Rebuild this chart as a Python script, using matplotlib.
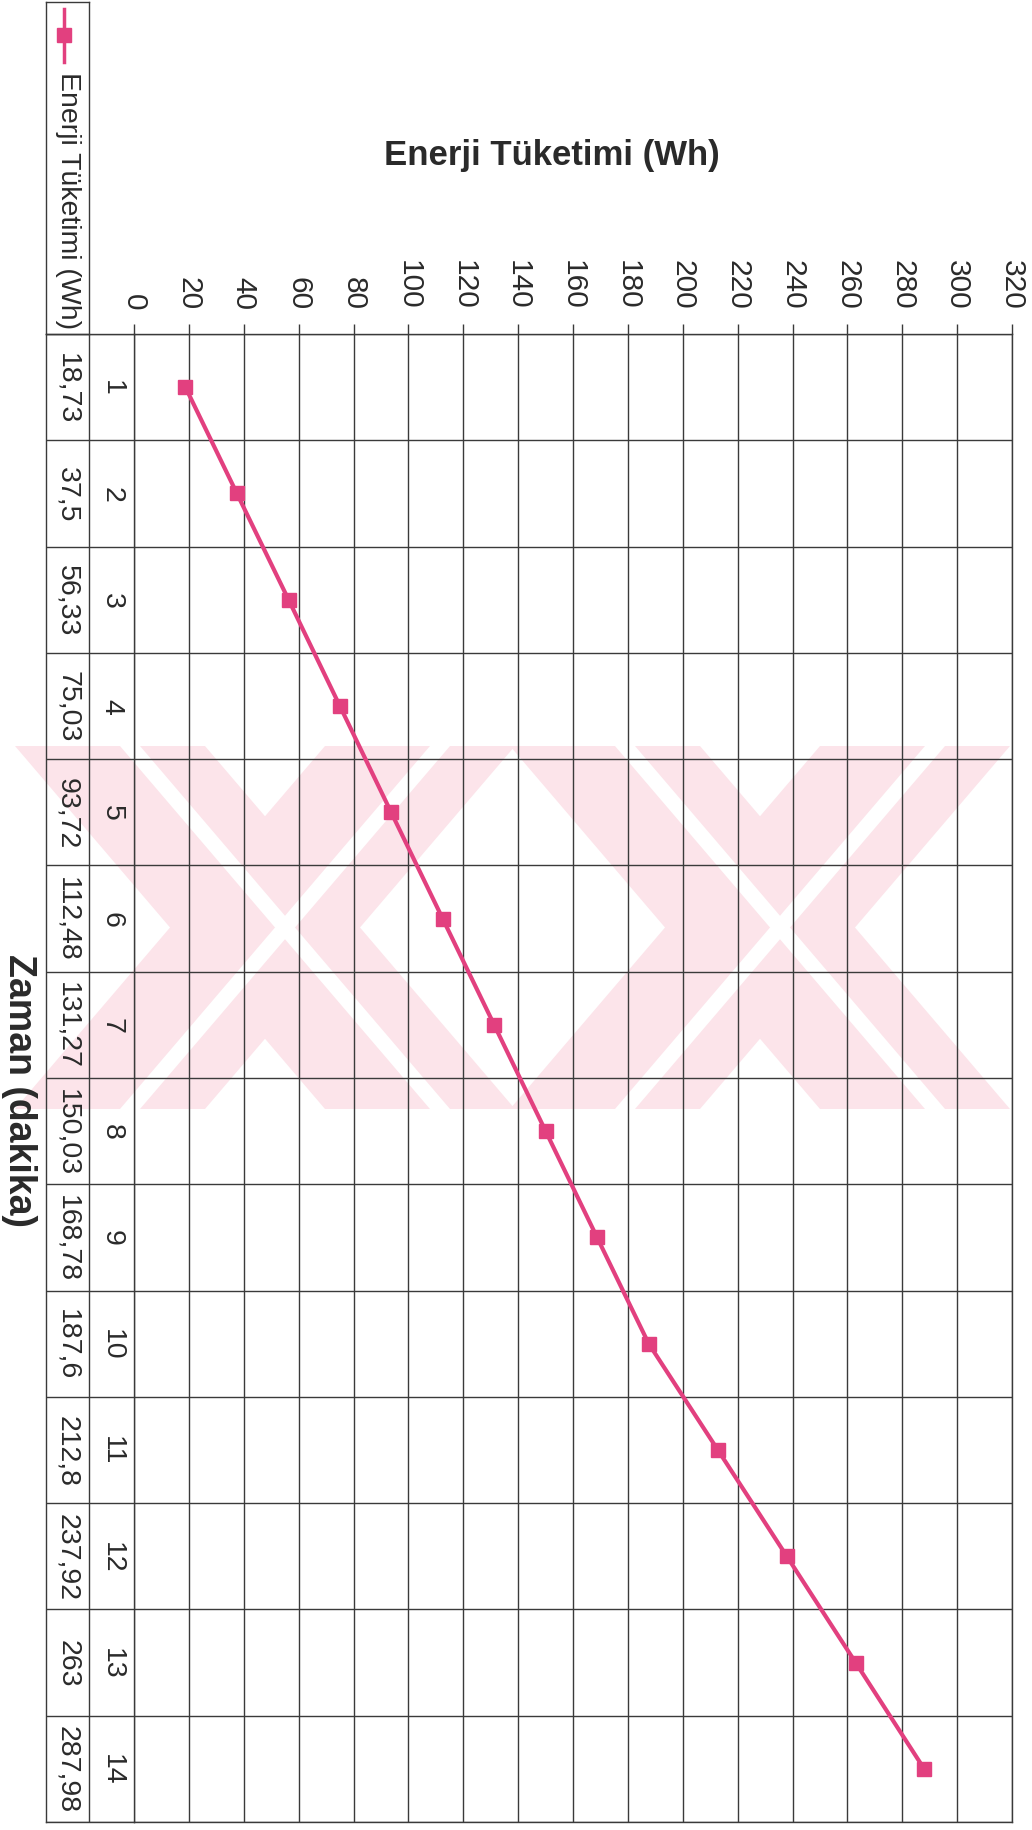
import numpy as np
import matplotlib
matplotlib.use("Agg")
import matplotlib.pyplot as plt
from matplotlib.patches import Polygon

plt.rcParams['font.family'] = ['Liberation Sans', 'DejaVu Sans']

# Energy consumption per minute
minutes = list(range(1, 15))
energy = [18.73, 37.5, 56.33, 75.03, 93.72, 112.48, 131.27,
          150.03, 168.78, 187.6, 212.8, 237.92, 263, 287.98]
value_ticks = list(range(0, 321, 20))
series_name = "Enerji Tüketimi (Wh)"
value_title = "Enerji Tüketimi (Wh)"
time_title = "Zaman (dakika)"

PINK = "#E2407F"
GRID = "#3a3a3a"
TXT = "#2a2a2a"
WM = "#FCE4EA"

# page size in pixels and layout (pixel coords, y measured from the top)
W, H = 1032, 1831
PLOT_L, PLOT_R, TOP, BOT = 134, 1012, 335, 1823
TAB_L, TAB_M = 46, 89


def box(x0, y0, x1, y1):
    return [x0 / W, 1 - y1 / H, (x1 - x0) / W, (y1 - y0) / H]


def px(pts):
    return [(x / W, 1 - y / H) for x, y in pts]


fig = plt.figure(figsize=(W / 100, H / 100), dpi=100)
fig.patch.set_facecolor("white")

# faint stamp across the middle of the page
wm_top, wm_bot = 747, 1110
for off in (0, 495):
    for (t0, t1, b0, b1) in [(15, 205, 325, 515), (325, 515, 15, 205)]:
        band = [(t0 + off, wm_top), (t1 + off, wm_top), (b1 + off, wm_bot), (b0 + off, wm_bot)]
        fig.add_artist(Polygon(px(band), closed=True, transform=fig.transFigure,
                               facecolor=WM, edgecolor="none", zorder=-5))
        s0 = t0 + 105 + off
        b_0 = b0 + 105 + off
        stripe = [(s0, wm_top), (s0 + 20, wm_top), (b_0 + 20, wm_bot), (b_0, wm_bot)]
        fig.add_artist(Polygon(px(stripe), closed=True, transform=fig.transFigure,
                               facecolor="white", edgecolor="none", zorder=-4))

# main plot: value axis runs horizontally, minutes downwards
ax = fig.add_axes(box(PLOT_L, TOP, PLOT_R, BOT))
ax.set_facecolor("none")
ax.plot(energy, minutes, color=PINK, lw=3, marker="s", ms=10,
        mfc=PINK, mec=PINK, zorder=3, clip_on=False)
ax.set_xlim(0, 320)
ax.set_ylim(len(minutes) + 0.5, 0.5)
ax.set_xticks(value_ticks)
ax.set_xticklabels([str(v) for v in value_ticks], rotation=-90)
ax.xaxis.tick_top()
ax.tick_params(axis="x", direction="out", length=7, width=1, color=GRID,
               pad=11, labelsize=21.5, labelcolor=TXT)
ax.set_yticks([])
ax.grid(axis="x", color=GRID, lw=1)
for b in np.arange(0.5, len(minutes) + 1):
    ax.axhline(b, color=GRID, lw=1)
for sp in ax.spines.values():
    sp.set_color(GRID)
    sp.set_linewidth(1)

# data table on the left
tab = fig.add_axes(box(TAB_L, TOP, PLOT_L, BOT))
tab.set_facecolor("none")
tab.set_xlim(TAB_L, PLOT_L)
tab.set_ylim(len(minutes) + 0.5, 0.5)
tab.set_xticks([])
tab.set_yticks([])
tab.axvline(TAB_M, color=GRID, lw=1)
for b in np.arange(0.5, len(minutes) + 1):
    tab.axhline(b, color=GRID, lw=1)
for sp in tab.spines.values():
    sp.set_color(GRID)
    sp.set_linewidth(1)
tab.spines["right"].set_visible(False)
for m, v in zip(minutes, energy):
    tab.text((TAB_L + TAB_M) / 2, m, f"{v:g}".replace(".", ","), rotation=-90,
             ha="center", va="center", fontsize=20.5, color=TXT)
    tab.text((TAB_M + PLOT_L) / 2, m, str(m), rotation=-90,
             ha="center", va="center", fontsize=20.5, color=TXT)

# series name cell with legend key
leg = fig.add_axes(box(TAB_L, 3, TAB_M, TOP))
leg.set_facecolor("none")
leg.set_xlim(TAB_L, TAB_M)
leg.set_ylim(TOP, 3)
leg.set_xticks([])
leg.set_yticks([])
for sp in leg.spines.values():
    sp.set_color(GRID)
    sp.set_linewidth(1)
kx = (TAB_L + TAB_M) / 2 - 4
leg.plot([kx, kx, kx], [10, 36, 63], color=PINK, lw=2.5, marker="s", ms=10,
         mfc=PINK, mec=PINK, markevery=[1])
leg.text((TAB_L + TAB_M) / 2, 72, series_name, rotation=-90, ha="center", va="top",
         fontsize=20.5, color=TXT)

# axis titles
fig.text(552 / W, 1 - 155 / H, value_title, ha="center", va="center",
         fontsize=25, fontweight="bold", color=TXT)
fig.text(19 / W, 1 - 1090 / H, time_title, rotation=-90, ha="center", va="center",
         fontsize=27, fontweight="bold", color=TXT)

fig.savefig("out.png", dpi=100)
